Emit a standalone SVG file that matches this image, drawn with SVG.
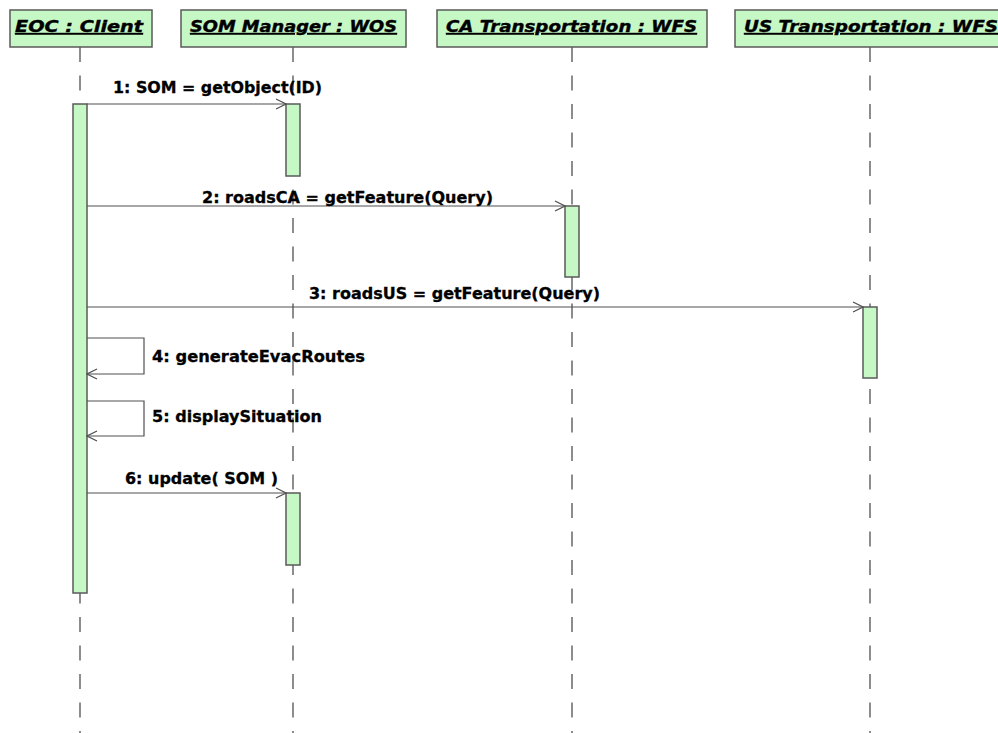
<svg xmlns="http://www.w3.org/2000/svg" width="998" height="733" viewBox="0 0 998 733">
  <style>
    .head { fill: #c6f8c6; stroke: #5a5a5a; stroke-width: 1.5; }
    .htxt { font-family: "DejaVu Sans", "Liberation Sans", sans-serif; font-size: 16px; font-weight: bold; font-style: italic; fill: #000; stroke: #000; stroke-width: 0.4; text-decoration: underline; }
    .life { stroke: #505050; stroke-width: 1.3; stroke-dasharray: 15 13.5; fill: none; }
    .act { fill: #c6f8c6; stroke: #5a5a5a; stroke-width: 1.5; }
    .msg { stroke: #505050; stroke-width: 1.2; fill: none; }
    .lbl { font-family: "DejaVu Sans", "Liberation Sans", sans-serif; font-size: 15px; font-weight: bold; fill: #000; stroke: #000; stroke-width: 0.3; }
  </style>
  <defs>
    <marker id="open" viewBox="0 0 12 12" refX="11" refY="6" markerWidth="12" markerHeight="12" markerUnits="userSpaceOnUse" orient="auto">
      <path d="M1,1 L11,6 L1,11" fill="none" stroke="#505050" stroke-width="1.2"/>
    </marker>
  </defs>
  <rect width="998" height="733" fill="#ffffff"/>

  <!-- lifelines -->
  <g id="lifelines">
    <line class="life" x1="80" y1="47" x2="80" y2="733"/>
    <line class="life" x1="293" y1="47" x2="293" y2="733"/>
    <line class="life" x1="572" y1="47" x2="572" y2="733"/>
    <line class="life" x1="870" y1="47" x2="870" y2="733"/>
  </g>

  <!-- participants -->
  <g id="eoc-client">
    <rect class="head" x="10" y="10" width="142" height="37"/>
    <text class="htxt" x="15" y="32" textLength="128" lengthAdjust="spacingAndGlyphs">EOC : Client</text>
    <rect class="act" x="73" y="104" width="14" height="489"/>
  </g>
  <g id="som-manager">
    <rect class="head" x="181" y="10" width="225" height="37"/>
    <text class="htxt" x="190" y="32" textLength="207" lengthAdjust="spacingAndGlyphs">SOM Manager : WOS</text>
    <rect class="act" x="286" y="104" width="14" height="72"/>
    <rect class="act" x="286" y="493" width="14" height="72"/>
  </g>
  <g id="ca-transportation">
    <rect class="head" x="437" y="10" width="270" height="37"/>
    <text class="htxt" x="446" y="32" textLength="251" lengthAdjust="spacingAndGlyphs">CA Transportation : WFS</text>
    <rect class="act" x="565" y="206" width="14" height="71"/>
  </g>
  <g id="us-transportation">
    <rect class="head" x="735" y="10" width="270" height="37"/>
    <text class="htxt" x="744" y="32" textLength="254" lengthAdjust="spacingAndGlyphs">US Transportation : WFS</text>
    <rect class="act" x="863" y="307" width="14" height="71"/>
  </g>

  <!-- messages -->
  <g id="connectors">
    <line class="msg" x1="87" y1="104" x2="286" y2="104" marker-end="url(#open)"/>
    <line class="msg" x1="87" y1="206" x2="565" y2="206" marker-end="url(#open)"/>
    <line class="msg" x1="87" y1="307" x2="863" y2="307" marker-end="url(#open)"/>
    <polyline class="msg" points="87,338 144,338 144,374 87,374" marker-end="url(#open)"/>
    <polyline class="msg" points="87,401 144,401 144,436 87,436" marker-end="url(#open)"/>
    <line class="msg" x1="87" y1="493" x2="286" y2="493" marker-end="url(#open)"/>
  </g>

  <g id="labels">
    <text class="lbl" x="113" y="93" textLength="209" lengthAdjust="spacingAndGlyphs">1: SOM = getObject(ID)</text>
    <text class="lbl" x="202" y="203" textLength="291" lengthAdjust="spacingAndGlyphs">2: roadsCA = getFeature(Query)</text>
    <text class="lbl" x="309" y="299" textLength="291" lengthAdjust="spacingAndGlyphs">3: roadsUS = getFeature(Query)</text>
    <text class="lbl" x="152" y="362" textLength="213" lengthAdjust="spacingAndGlyphs">4: generateEvacRoutes</text>
    <text class="lbl" x="152" y="422" textLength="170" lengthAdjust="spacingAndGlyphs">5: displaySituation</text>
    <text class="lbl" x="125" y="484" textLength="153" lengthAdjust="spacingAndGlyphs">6: update( SOM )</text>
  </g>
</svg>
